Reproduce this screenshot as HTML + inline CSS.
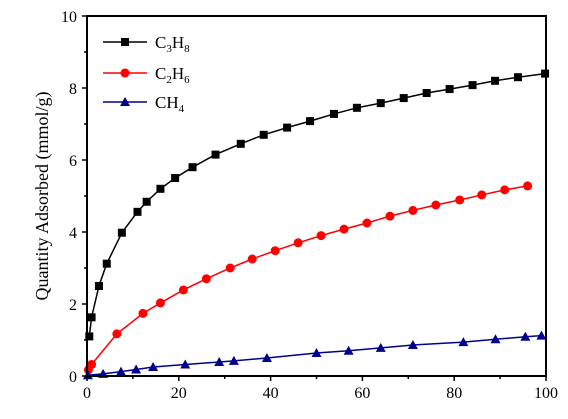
<!DOCTYPE html>
<html><head><meta charset="utf-8"><style>
body{margin:0;background:#fff}
svg{display:block;font-family:"Liberation Serif",serif}
</style></head><body>
<svg id="c" width="568" height="419"></svg>
<script>
const xTicks=[0,20,40,60,80,100];
const yTicks=[0,2,4,6,8,10];
const c3x=[0.5,1,2.6,4.3,7.6,11,13,16,19.2,23,28,33.5,38.5,43.6,48.6,53.8,58.8,64,69,74,79,84,88.9,93.9,99.8];
const c3y=[1.1,1.63,2.5,3.12,3.98,4.56,4.84,5.2,5.5,5.8,6.15,6.45,6.7,6.9,7.08,7.28,7.45,7.58,7.72,7.86,7.97,8.08,8.2,8.3,8.4];
const c2x=[0.3,1,6.5,12.2,16,21,26,31.2,36,41,46,51,56,61,66,71,76,81.2,86,91,96];
const c2y=[0.17,0.32,1.17,1.74,2.03,2.39,2.7,3.0,3.25,3.48,3.7,3.9,4.08,4.25,4.44,4.6,4.75,4.89,5.03,5.17,5.28];
const c1x=[0.2,3.5,7.4,10.7,14.4,21.4,28.8,32,39.2,50,57,64,71,82,89,95.5,99];
const c1y=[0.02,0.06,0.12,0.18,0.25,0.32,0.39,0.42,0.5,0.64,0.7,0.78,0.86,0.94,1.02,1.09,1.12];
const X0=87,X1=546,Y0=376,Y1=16;
const sx=v=>X0+(X1-X0)*v/100, sy=v=>Y0-(Y0-Y1)*v/10;
const svg=document.getElementById('c');const NS='http://www.w3.org/2000/svg';
function mk(t,a,p){const e=document.createElementNS(NS,t);for(const k in a)e.setAttribute(k,a[k]);(p||svg).appendChild(e);return e;}
function series(xs,ys,col,shape,name){
  const g=mk('g',{});
  
  
  mk('polyline',{points:xs.map((x,i)=>sx(x)+','+sy(ys[i])).join(' '),fill:'none',stroke:col,'stroke-width':1.5},g);
  xs.forEach((x,i)=>drawMark(g,sx(x),sy(ys[i]),col,shape,name));
}
function drawMark(g,x,y,col,shape,name){
  let m;
  if(shape==='sq')m=mk('rect',{x:x-4,y:y-4,width:8,height:8,fill:col},g);
  else if(shape==='ci')m=mk('circle',{cx:x,cy:y,r:4.5,fill:col},g);
  else m=mk('polygon',{points:`${x},${y-5} ${x-5},${y+4} ${x+5},${y+4}`,fill:col},g);
  
  
}
series(c3x,c3y,'#000','sq','c3h8');
series(c2x,c2y,'#f00','ci','c2h6');
series(c1x,c1y,'#00008b','tr','ch4');
// axes
const ax=mk('rect',{x:X0,y:Y1,width:X1-X0,height:Y0-Y1,fill:'none',stroke:'#000','stroke-width':2});


for(let v=0;v<=100;v+=10){mk('line',{x1:sx(v),x2:sx(v),y1:Y0,y2:Y0+(v%20?3:5),stroke:'#000','stroke-width':1.5});}
for(let v=0;v<=10;v+=1){mk('line',{x1:X0,x2:X0-(v%2?3:5),y1:sy(v),y2:sy(v),stroke:'#000','stroke-width':1.5});}
xTicks.forEach(v=>{const t=mk('text',{x:sx(v),y:Y0+22,'text-anchor':'middle','font-size':16});t.textContent=v;

});
yTicks.forEach(v=>{const t=mk('text',{x:X0-10,y:sy(v)+6,'text-anchor':'end','font-size':16});t.textContent=v;

});
const yl=mk('text',{x:0,y:0,transform:`translate(48,${(Y0+Y1)/2}) rotate(-90)`,'text-anchor':'middle','font-size':18});
yl.textContent='Quantity Adsorbed (mmol/g)';


// legend
const leg=[['C','3','H','8','#000','sq',42,'legend-c3h8'],['C','2','H','6','#f00','ci',73,'legend-c2h6'],['CH','4','','','#00008b','tr',102,'legend-ch4']];
leg.forEach(l=>{
  const g=mk('g',{});
  
  
  mk('line',{x1:103,x2:147,y1:l[6],y2:l[6],stroke:l[4],'stroke-width':1.5},g);
  drawMark(g,125,l[6],l[4],l[5],l[7]);
  const t=mk('text',{x:155,y:l[6]+6,'font-size':17},g);
  t.innerHTML=`${l[0]}<tspan font-size="11" dy="4">${l[1]}</tspan>`+(l[2]?`<tspan dy="-4">${l[2]}</tspan><tspan font-size="11" dy="4">${l[3]}</tspan>`:'');
});
</script>
</body></html>
